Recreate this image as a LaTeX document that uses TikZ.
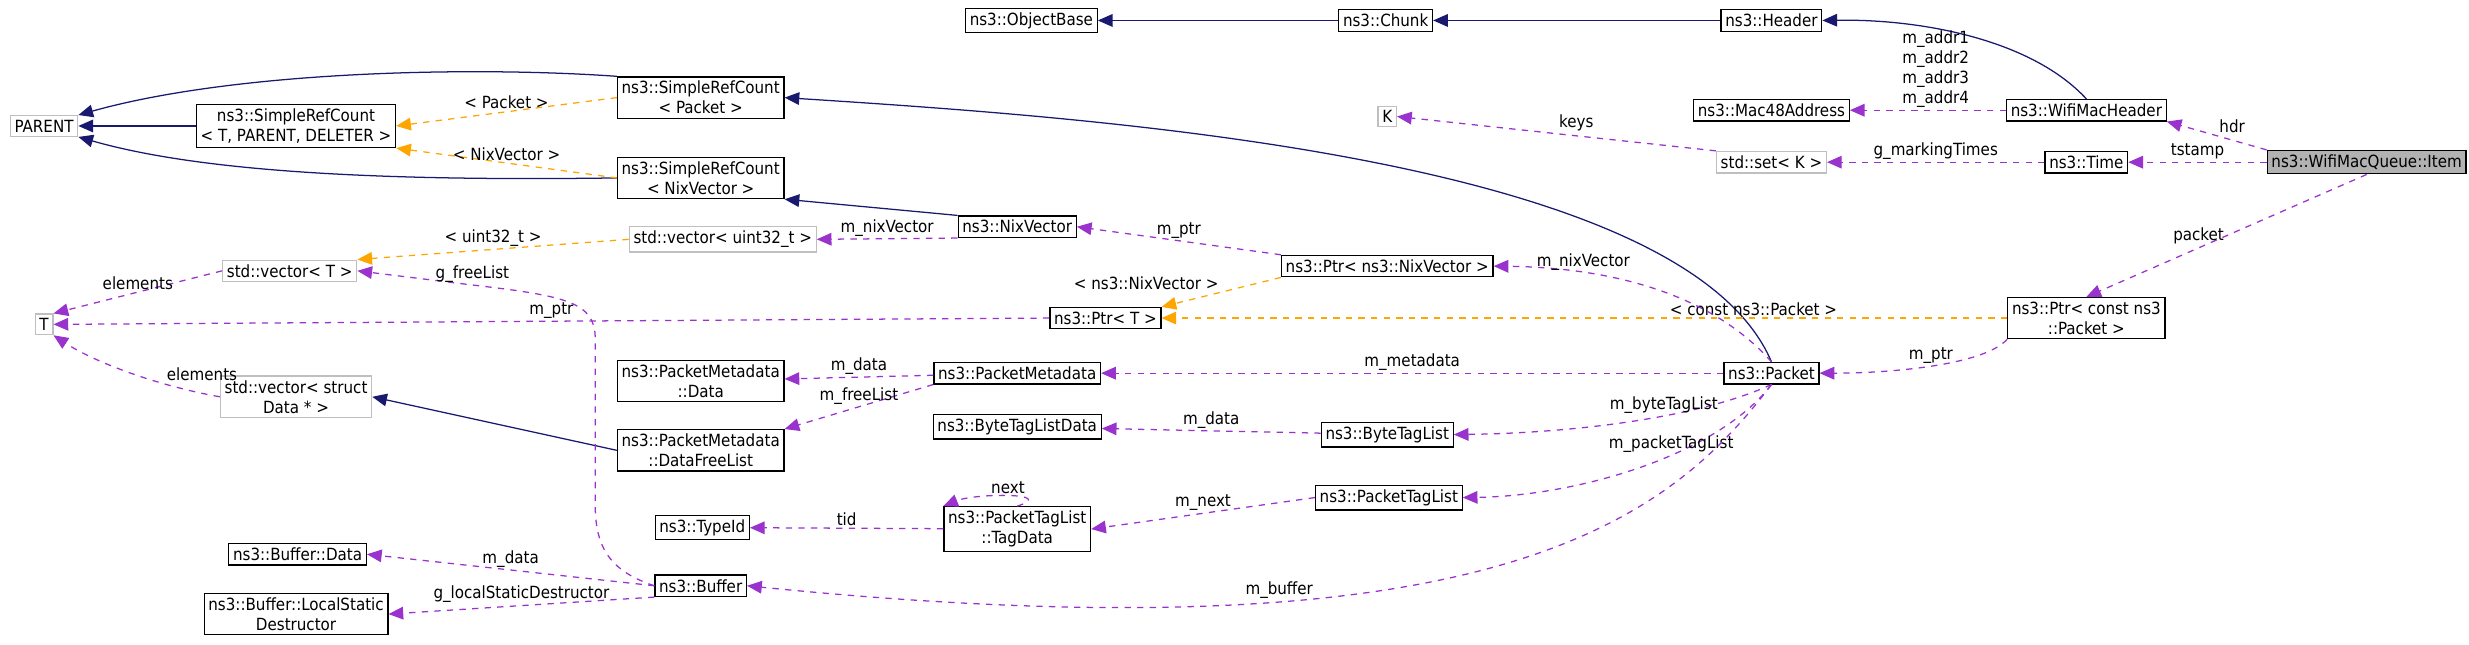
\documentclass[tikz,border=0pt]{standalone}
\usepackage{fontspec}
\setmainfont{DejaVu Sans Condensed}
\usetikzlibrary{arrows.meta}
\definecolor{navy}{HTML}{191970}
\definecolor{orng}{HTML}{FFA500}
\definecolor{purp}{HTML}{9A32CD}
\tikzset{
  cls/.style={draw=black,fill=white,inner sep=2pt,font=\fontsize{8}{9.5}\selectfont,align=center,line width=0.6pt},
  ext/.style={cls,draw=black!25},
  inh/.style={navy,line width=0.6pt,-{Triangle[length=7pt,width=6pt]}},
  tpl/.style={orng,dashed,line width=0.6pt,-{Triangle[length=7pt,width=6pt]}},
  use/.style={purp,dashed,line width=0.6pt,-{Triangle[length=7pt,width=6pt]}},
  lbl/.style={font=\fontsize{8}{9.5}\selectfont,text=black,align=center,inner sep=1pt}
}
\begin{document}
\begin{tikzpicture}[x=0.75pt,y=-0.75pt]
\useasboundingbox (0,0) rectangle (1568,409);

% top row
\node[cls] (objbase) at (655,13) {ns3::ObjectBase};
\node[cls] (chunk) at (880,13) {ns3::Chunk};
\node[cls] (header) at (1125,13) {ns3::Header};

% classes
\node[ext] (parent) at (28,80) {PARENT};
\node[cls] (srct) at (188,80) {ns3::SimpleRefCount\\< T, PARENT, DELETER >};
\node[cls] (srcpkt) at (445,62) {ns3::SimpleRefCount\\< Packet >};
\node[cls] (srcnix) at (445,113) {ns3::SimpleRefCount\\< NixVector >};
\node[ext] (k) at (881,74) {K};
\node[cls] (mac) at (1125,70) {ns3::Mac48Address};
\node[cls] (wifihdr) at (1325,70) {ns3::WifiMacHeader};
\node[ext] (set) at (1125,103) {std::set< K >};
\node[cls] (time) at (1325,103) {ns3::Time};
\node[cls,fill=black!30] (item) at (1503,103) {ns3::WifiMacQueue::Item};
\node[cls] (nix) at (646,144) {ns3::NixVector};
\node[ext] (vecu32) at (459,152) {std::vector< uint32\_t >};
\node[cls] (ptrnix) at (881,169) {ns3::Ptr< ns3::NixVector >};
\node[ext] (vect) at (184,172) {std::vector< T >};
\node[cls] (ptrt) at (702,202) {ns3::Ptr< T >};
\node[ext] (t) at (28,206) {T};
\node[cls] (ptrpkt) at (1325,202) {ns3::Ptr< const ns3\\::Packet >};
\node[cls] (packet) at (1125,237) {ns3::Packet};
\node[cls] (pmdata) at (445,242) {ns3::PacketMetadata\\::Data};
\node[cls] (pm) at (646,237) {ns3::PacketMetadata};
\node[ext] (vecdata) at (188,252) {std::vector< struct\\Data * >};
\node[cls] (btldata) at (646,271) {ns3::ByteTagListData};
\node[cls] (btl) at (881,276) {ns3::ByteTagList};
\node[cls] (freelist) at (445,286) {ns3::PacketMetadata\\::DataFreeList};
\node[cls] (typeid) at (446,335) {ns3::TypeId};
\node[cls] (tagdata) at (646,336) {ns3::PacketTagList\\::TagData};
\node[cls] (ptl) at (882,316) {ns3::PacketTagList};
\node[cls] (bufdata) at (189,352) {ns3::Buffer::Data};
\node[cls] (buffer) at (445,372) {ns3::Buffer};
\node[cls] (lsd) at (188,390) {ns3::Buffer::LocalStatic\\Destructor};

% inheritance
\draw[inh] (chunk) -- (objbase);
\draw[inh] (header) -- (chunk);
\draw[inh] (wifihdr.north) .. controls (1290,25) and (1220,12) .. (header.east);
\draw[inh] (srct) -- (parent);
\draw[inh] (srcpkt.north west) .. controls (300,42) and (150,45) .. (parent.north east);
\draw[inh] (srcnix.west) .. controls (250,115) and (130,110) .. (parent.south east);
\draw[inh] (packet.north) .. controls (1070,100) and (700,75) .. (srcpkt.east);
\draw[inh] (nix.north west) -- (srcnix.south east);
\draw[inh] (freelist.west) -- (vecdata.east);

% templates
\draw[tpl] (srcpkt.west) -- node[lbl,above]{< Packet >} (srct.east);
\draw[tpl] (srcnix.west) -- node[lbl,above]{< NixVector >} (srct.south east);
\draw[tpl] (vecu32.west) -- node[lbl,above]{< uint32\_t >} (vect.north east);
\draw[tpl] (ptrnix.south west) -- node[lbl,above left]{< ns3::NixVector >} (ptrt.north east);
\draw[tpl] (ptrpkt.west) -- node[lbl,above,pos=0.3]{< const ns3::Packet >} (ptrt.east);

% members
\draw[use] (wifihdr) -- node[lbl,above,pos=0.45]{m\_addr1\\m\_addr2\\m\_addr3\\m\_addr4} (mac);
\draw[use] (item.north west) -- node[lbl,above right]{hdr} (wifihdr.south east);
\draw[use] (item) -- node[lbl,above]{tstamp} (time);
\draw[use] (time) -- node[lbl,above]{g\_markingTimes} (set);
\draw[use] (set.north west) -- node[lbl,above right]{keys} (k.east);
\draw[use] (item.south) -- node[lbl,left]{packet} (ptrpkt.north);
\draw[use] (ptrpkt.south west) .. controls (1260,232) and (1200,237) .. node[lbl,above]{m\_ptr} (packet.east);
\draw[use] (packet.north) .. controls (1090,190) and (1030,170) .. node[lbl,above,pos=0.75]{m\_nixVector} (ptrnix.east);
\draw[use] (ptrnix.north west) -- node[lbl,above]{m\_ptr} (nix.east);
\draw[use] (nix.south west) -- node[lbl,above]{m\_nixVector} (vecu32.east);
\draw[use] (vect.west) -- node[lbl,above]{elements} (t.north east);
\draw[use] (vecdata.west) .. controls (100,245) and (60,230) .. node[lbl,above right,pos=0.3]{elements} (t.south east);
\draw[use] (ptrt.west) -- node[lbl,above]{m\_ptr} (t.east);
\draw[use] (packet) -- node[lbl,above]{m\_metadata} (pm);
\draw[use] (pm) -- node[lbl,above]{m\_data} (pmdata);
\draw[use] (pm.south west) -- node[lbl,above]{m\_freeList} (freelist.north east);
\draw[use] (packet.south) .. controls (1080,265) and (1000,275) .. node[lbl,above,pos=0.4]{m\_byteTagList} (btl.east);
\draw[use] (btl) -- node[lbl,above]{m\_data} (btldata);
\draw[use] (packet.south) .. controls (1090,290) and (1000,315) .. node[lbl,above,pos=0.4]{m\_packetTagList} (ptl.east);
\draw[use] (ptl.west) -- node[lbl,above]{m\_next} (tagdata.east);
\draw[use] (tagdata.north) .. controls (672,313) and (620,313) .. node[lbl,above]{next} (tagdata.north west);
\draw[use] (tagdata) -- node[lbl,above]{tid} (typeid);
\draw[use] (buffer.west) -- node[lbl,above]{m\_data} (bufdata.east);
\draw[use] (buffer.south west) -- node[lbl,above]{g\_localStaticDestructor} (lsd.east);
\draw[use] (packet.south) .. controls (1060,330) and (950,420) .. node[lbl,above,pos=0.7]{m\_buffer} (buffer.east);
\draw[use] (buffer.west) .. controls (385,362) and (378,345) .. (378,320) -- (378,215) .. controls (378,192) and (360,188) .. node[lbl,above,pos=1]{g\_freeList} (300,181) -- (vect.east);
\end{tikzpicture}
\end{document}
